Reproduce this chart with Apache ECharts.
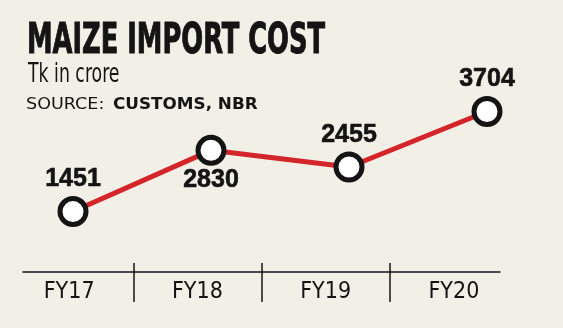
<!DOCTYPE html>
<html>
<head>
<meta charset="utf-8">
<style>
  html, body { margin: 0; padding: 0; background: #f2efe7; }
  #chart { width: 563px; height: 328px; }
</style>
<script src="https://cdn.jsdelivr.net/npm/echarts@6/dist/echarts.min.js"></script>
</head>
<body>
<div id="chart"></div>
<script>
// Fiscal years and maize import cost (Tk in crore)
const years = ['FY17', 'FY18', 'FY19', 'FY20'];
const importCost = [1451, 2830, 2455, 3704];

const titleText = 'MAIZE IMPORT COST';
const unitText = 'Tk in crore';
const sourceLabel = 'SOURCE:';
const sourceName = 'CUSTOMS, NBR';

const condensed = '"DejaVu Sans Condensed", "DejaVu Sans", sans-serif';
const ink = '#141414';

const chart = echarts.init(document.getElementById('chart'), null, { renderer: 'canvas' });

chart.setOption({
  backgroundColor: '#f2efe7',
  animation: false,
  graphic: [
    {
      type: 'text', x: 27, y: 42, scaleX: 0.665,
      style: { text: titleText, x: 0, y: 0, font: 'bold 43px ' + condensed, fill: ink, stroke: ink, lineWidth: 1, verticalAlign: 'middle' }
    },
    {
      type: 'text', x: 28, y: 75, scaleX: 0.74,
      style: { text: unitText, x: 0, y: 0, font: '26px ' + condensed, fill: ink, verticalAlign: 'middle' }
    },
    {
      type: 'text', x: 26, y: 105, scaleX: 1.17,
      style: { text: sourceLabel, x: 0, y: 0, font: '15px "DejaVu Sans", sans-serif', fill: ink, verticalAlign: 'middle' }
    },
    {
      type: 'text', x: 113, y: 105, scaleX: 1.12,
      style: { text: sourceName, x: 0, y: 0, font: 'bold 15px "DejaVu Sans", sans-serif', fill: ink, verticalAlign: 'middle' }
    }
  ],
  grid: [
    // year bands: labels and dividers
    { left: 5, right: 45, top: 263, bottom: 26 },
    // plotting area for the line
    { left: 73, right: 76, top: 54, bottom: 52 },
    // baseline under the line
    { left: 23, right: 63, top: 263, bottom: 56 }
  ],
  xAxis: [
    {
      type: 'category', gridIndex: 0, data: years, boundaryGap: true,
      position: 'bottom', offset: -30,
      axisLine: { show: false, onZero: false },
      axisTick: { show: false },
      axisLabel: { show: true, margin: 9, fontFamily: condensed, fontSize: 23, color: ink },
      splitLine: { show: true, showMinLine: false, showMaxLine: false, lineStyle: { color: ink, width: 1.5 } }
    },
    {
      type: 'category', gridIndex: 1, data: years, boundaryGap: false, show: false
    },
    {
      type: 'category', gridIndex: 2, data: years, position: 'bottom',
      axisLine: { show: true, onZero: false, lineStyle: { color: ink, width: 1.5 } },
      axisTick: { show: false },
      axisLabel: { show: false },
      splitLine: { show: false }
    }
  ],
  yAxis: [
    { type: 'value', gridIndex: 0, show: false, min: 0, max: 1, splitLine: { show: false } },
    { type: 'value', gridIndex: 1, show: false, min: 0, max: 5000, splitLine: { show: false } },
    { type: 'value', gridIndex: 2, show: false, min: 0, max: 1, splitLine: { show: false } }
  ],
  series: [
    {
      type: 'line',
      xAxisIndex: 1, yAxisIndex: 1,
      data: importCost.map((v, i) => ({
        value: v,
        label: { position: i === 1 ? 'bottom' : 'top', distance: i === 1 ? 2 : 4 }
      })),
      lineStyle: { color: '#d4252b', width: 5 },
      symbol: 'circle',
      symbolSize: 26,
      itemStyle: { color: '#ffffff', borderColor: ink, borderWidth: 5 },
      z: 3,
      label: {
        show: true,
        fontFamily: '"Liberation Sans", Arial, sans-serif',
        fontWeight: 'bold',
        fontSize: 25,
        color: ink,
        textBorderColor: ink,
        textBorderWidth: 0.6
      }
    }
  ]
});
</script>
</body>
</html>
